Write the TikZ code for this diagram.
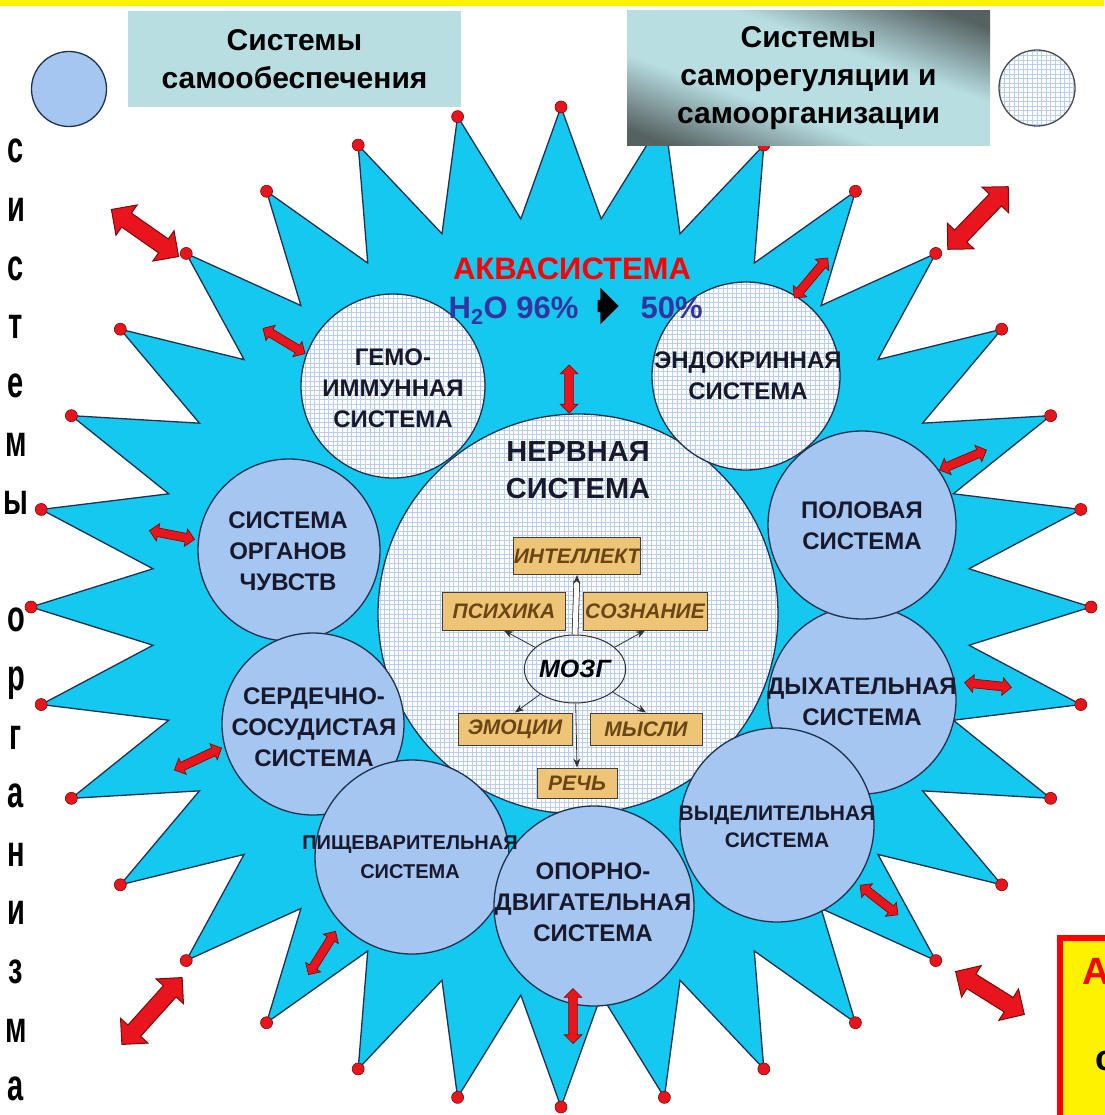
\documentclass[tikz,border=0pt]{standalone}
\usepackage{fontspec}
\setmainfont{Liberation Sans}
\usetikzlibrary{arrows.meta,shapes.geometric,shapes.arrows}

\definecolor{aqua}{RGB}{20,200,240}
\definecolor{organblue}{RGB}{164,198,240}
\definecolor{gridblue}{RGB}{184,206,242}
\definecolor{outline}{RGB}{30,50,80}
\definecolor{arrowred}{RGB}{232,22,28}
\definecolor{arrowrim}{RGB}{120,12,12}
\definecolor{boxteal}{RGB}{184,222,226}
\definecolor{boxdark}{RGB}{86,98,98}
\definecolor{tan}{RGB}{238,196,118}
\definecolor{tantext}{RGB}{105,70,20}
\definecolor{waterblue}{RGB}{52,52,160}
\definecolor{inkdark}{RGB}{25,25,45}

\pgfdeclarehorizontalshading{glare}{100bp}{color(0bp)=(boxdark); color(22bp)=(boxdark); color(40bp)=(boxteal); color(60bp)=(boxteal); color(78bp)=(boxdark); color(100bp)=(boxdark)}

\tikzset{
  sun/.style={fill=aqua, draw=outline, line width=1.3pt},
  tipdot/.style={fill=arrowred, draw=arrowrim, line width=0.6pt},
  checker/.style={fill=white, path picture={\draw[gridblue, line width=1pt] (path picture bounding box.south west) grid[step=4.6pt] (path picture bounding box.north east);}},
  organ/.style={circle, draw=outline, line width=1.3pt, fill=organblue, inner sep=0pt},
  organtext/.style={text=inkdark, align=center, font=\bfseries\fontsize{24}{31}\selectfont},
  faculty/.style={draw=black!75, line width=1pt, fill=tan, text=tantext, inner sep=0pt, font=\bfseries\itshape\fontsize{21}{24}\selectfont},
  brainlink/.style={-{Stealth[length=9pt,width=7pt]}, line width=0.8pt, black!80},
  bigarrow/.style={double arrow, fill=arrowred, draw=arrowrim, line width=1pt, inner sep=8pt, minimum width=36, double arrow head extend=10},
  smallarrow/.style={double arrow, fill=arrowred, draw=arrowrim, line width=0.7pt, inner sep=4pt, minimum width=17, double arrow head extend=4.5},
  vletter/.style={anchor=base, font=\bfseries\fontsize{44}{44}\selectfont},
  titlebox/.style={inner sep=0pt, align=center, font=\bfseries\fontsize{30}{38}\selectfont}
}

\begin{document}
\begin{tikzpicture}[x=1pt, y=-1pt]
\useasboundingbox (0,0) rectangle (1104,1115);
\fill[white] (0,0) rectangle (1104,1115);
\fill[yellow] (0,0) rectangle (1104,6);

% the water star
\draw[sun] (561,107)
  \foreach \k in {0,...,31} {
    -- ({561+410*sin(\k*11.25+5.625)}, {607-390*cos(\k*11.25+5.625)})
    -- ({561+530*sin((\k+1)*11.25)}, {607-500*cos((\k+1)*11.25)})
  } -- cycle;
\foreach \k in {0,...,31}
  \draw[tipdot] ({561+530*sin(\k*11.25)}, {607-500*cos(\k*11.25)}) circle (6);

% organ systems
\node[organ, checker, minimum size=400] (nerve) at (578,614) {};
\node[organ, checker, minimum size=184] (gemo) at (393,386) {};
\node[organ, checker, minimum size=188] (endo) at (746,376) {};
\node[organ, minimum size=182] (sense) at (289,550) {};
\node[organ, minimum size=182] (heart) at (313,724) {};
\node[organ, minimum size=194] (digest) at (412,857) {};
\node[organ, minimum size=200] (motion) at (594,906) {};
\node[organ, minimum size=188] (breath) at (862,700) {};
\node[organ, minimum size=194] (excrete) at (777,825) {};
\node[organ, minimum size=188] (sexual) at (862,525) {};

\node[organtext] (gemotext) at (393,388) {ГЕМО-\\ИММУННАЯ\\СИСТЕМА};
\node[organtext] (endotext) at (748,376) {ЭНДОКРИННАЯ\\СИСТЕМА};
\node[organtext] (sensetext) at (288,551) {СИСТЕМА\\ОРГАНОВ\\ЧУВСТВ};
\node[organtext] (hearttext) at (314,727) {СЕРДЕЧНО-\\СОСУДИСТАЯ\\СИСТЕМА};
\node[organtext, font=\bfseries\fontsize{20}{29}\selectfont] (digesttext) at (410,857) {ПИЩЕВАРИТЕЛЬНАЯ\\СИСТЕМА};
\node[organtext] (motiontext) at (593,902) {ОПОРНО-\\ДВИГАТЕЛЬНАЯ\\СИСТЕМА};
\node[organtext, font=\bfseries\fontsize{21}{27}\selectfont] (excretetext) at (777,827) {ВЫДЕЛИТЕЛЬНАЯ\\СИСТЕМА};
\node[organtext] (breathtext) at (862,702) {ДЫХАТЕЛЬНАЯ\\СИСТЕМА};
\node[organtext] (sexualtext) at (862,526) {ПОЛОВАЯ\\СИСТЕМА};
\node[organtext, font=\bfseries\fontsize{29}{37}\selectfont] (nervetext) at (578,470) {НЕРВНАЯ\\СИСТЕМА};

% brain
\node[ellipse, draw=black!80, line width=1pt, minimum width=97, minimum height=68, inner sep=0pt, font=\bfseries\itshape\fontsize{25}{25}\selectfont] (mozg) at (575,669) {МОЗГ};
\node[faculty, minimum width=125, minimum height=37] (intellect) at (577,556) {ИНТЕЛЛЕКТ};
\node[faculty, minimum width=123, minimum height=38] (psikhika) at (504,611) {ПСИХИКА};
\node[faculty, minimum width=124, minimum height=38] (soznanie) at (645,611) {СОЗНАНИЕ};
\node[faculty, minimum width=114, minimum height=32] (emotsii) at (515,729) {ЭМОЦИИ};
\node[faculty, minimum width=112, minimum height=32] (mysli) at (646,729) {МЫСЛИ};
\node[faculty, minimum width=80, minimum height=30] (rech) at (577,783) {РЕЧЬ};
\draw[brainlink, double=white, double distance=5pt] (mozg.north) -- (intellect.south);
\draw[brainlink] (mozg) -- (psikhika.south);
\draw[brainlink] (mozg) -- (soznanie.south);
\draw[brainlink] (mozg) -- (emotsii.north);
\draw[brainlink] (mozg) -- (mysli.north);
\draw[brainlink] (mozg) -- (rech.north);

% exchange arrows
\node[smallarrow, minimum height=49, rotate=-31] (linkgemo) at (284,341) {};
\node[smallarrow, minimum height=48, rotate=90] (linknerve) at (569,389) {};
\node[smallarrow, minimum height=52, rotate=50] (linkendo) at (811,278) {};
\node[smallarrow, minimum height=51, rotate=23] (linksexual) at (963,460) {};
\node[smallarrow, minimum height=47, rotate=-6] (linkbreath) at (988,685) {};
\node[smallarrow, minimum height=48, rotate=-38] (linkexcrete) at (879,900) {};
\node[smallarrow, minimum height=55, rotate=90] (linkmotion) at (573,1016) {};
\node[smallarrow, minimum height=51, rotate=58] (linkdigest) at (322,953) {};
\node[smallarrow, minimum height=52, rotate=25] (linkheart) at (198,759) {};
\node[smallarrow, minimum height=46, rotate=-11] (linksense) at (172,535) {};
\node[bigarrow, minimum height=82, rotate=-35] (outnw) at (145,233) {};
\node[bigarrow, minimum height=87, rotate=46] (outne) at (978,218) {};
\node[bigarrow, minimum height=90, rotate=48] (outsw) at (152,1011) {};
\node[bigarrow, minimum height=81, rotate=-32] (outse) at (990,993) {};

% water
\node[anchor=base, text=red, font=\bfseries\fontsize{31}{31}\selectfont] (aqua) at (572,279) {АКВАСИСТЕМА};
\node[anchor=base east, text=waterblue, font=\bfseries\fontsize{31}{31}\selectfont] (water) at (582,318) {H\textsubscript{2}O 96\%};
\node[single arrow, fill=black, inner sep=6pt, minimum height=21, minimum width=36, single arrow head extend=12] (toward) at (605,306) {};
\node[anchor=base west, text=waterblue, font=\bfseries\fontsize{31}{31}\selectfont] (half) at (637,318) {50\%};

% headings and legend
\node[titlebox, fill=boxteal, minimum width=333, minimum height=96] (supply) at (294.5,59) {Системы\\самообеспечения};
\node[titlebox, shade, shading=glare, shading angle=70, minimum width=363, minimum height=135] (regulation) at (808.5,78.5) {Системы\\саморегуляции и\\самоорганизации};
\node[organ, minimum size=75] (legendplain) at (69,89) {};
\node[organ, checker, draw=black!70, minimum size=76] (legendgrid) at (1037,88) {};

% vertical caption
\foreach \ch [count=\i from 0] in {с,и,с,т,е,м,ы}
  \node[vletter] (up\i) at (16,{163+58.6*\i}) {\scalebox{0.66}[1]{\ch}};
\foreach \ch [count=\i from 8] in {о,р,г,а,н,и,з,м,а}
  \node[vletter] (low\i) at (16,{163+58.6*\i}) {\scalebox{0.66}[1]{\ch}};

% corner note
\draw[red, line width=6pt, fill=yellow] (1060,938) rectangle (1200,1200);
\node[anchor=base west, text=red, font=\bfseries\fontsize{38}{38}\selectfont] (notehead) at (1079,984) {А};
\node[anchor=base west, font=\bfseries\fontsize{36}{36}\selectfont] (notebody) at (1092,1070) {с};
\end{tikzpicture}
\end{document}
